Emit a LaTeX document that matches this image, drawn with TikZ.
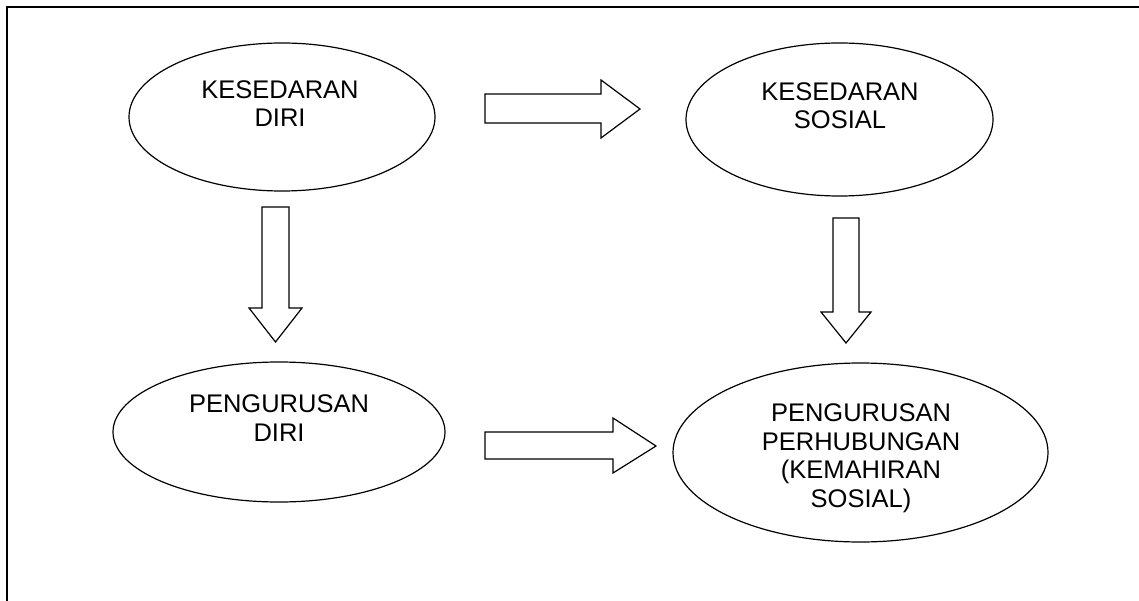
\documentclass[tikz,border=0pt]{standalone}
\usepackage{fontspec}
\setmainfont{Liberation Sans}
\usetikzlibrary{shapes.geometric}
\begin{document}
\begin{tikzpicture}[x=1pt,y=-1pt,
  oval/.style={draw,line width=1.2pt,ellipse,inner sep=0pt},
  lbl/.style={anchor=base,align=center,inner sep=0pt,font=\fontsize{25.5}{28.5}\selectfont},
  blockarrow/.style={draw,line width=1.2pt,line join=miter,fill=white}]
\useasboundingbox (0,0) rectangle (1139,601);
\fill[white] (0,0) rectangle (1139,601);
% frame (top and left edges)
\draw[line width=2pt] (1139,7) -- (7,7) -- (7,601);
% ellipses
\node[oval,minimum width=306pt,minimum height=148pt] (e1) at (282,117) {};
\node[oval,minimum width=307pt,minimum height=153pt] (e2) at (839.5,119.5) {};
\node[oval,minimum width=332pt,minimum height=140pt] (e3) at (279,432) {};
\node[oval,minimum width=375pt,minimum height=179pt] (e4) at (860.5,452.5) {};
% texts (anchor = baseline of the last line)
\node[lbl] (t1) at (280,127) {KESEDARAN\\DIRI};
\node[lbl] (t2) at (840,129) {KESEDARAN\\SOSIAL};
\node[lbl] (t3) at (279,441) {PENGURUSAN\\DIRI};
\node[lbl] (t4) at (861,507) {PENGURUSAN\\PERHUBUNGAN\\(KEMAHIRAN\\SOSIAL)};
% block arrows
\draw[blockarrow] (485,94) -- (601,94) -- (601,80) -- (640,109) -- (601,138) -- (601,123) -- (485,123) -- cycle;
\draw[blockarrow] (262,207) -- (289,207) -- (289,308) -- (302,308) -- (275.5,342) -- (249,308) -- (262,308) -- cycle;
\draw[blockarrow] (485,432) -- (613,432) -- (613,418) -- (656,446) -- (613,473) -- (613,459) -- (485,459) -- cycle;
\draw[blockarrow] (833,218) -- (859,218) -- (859,312) -- (871,312) -- (846,343) -- (821,312) -- (833,312) -- cycle;
\end{tikzpicture}
\end{document}
